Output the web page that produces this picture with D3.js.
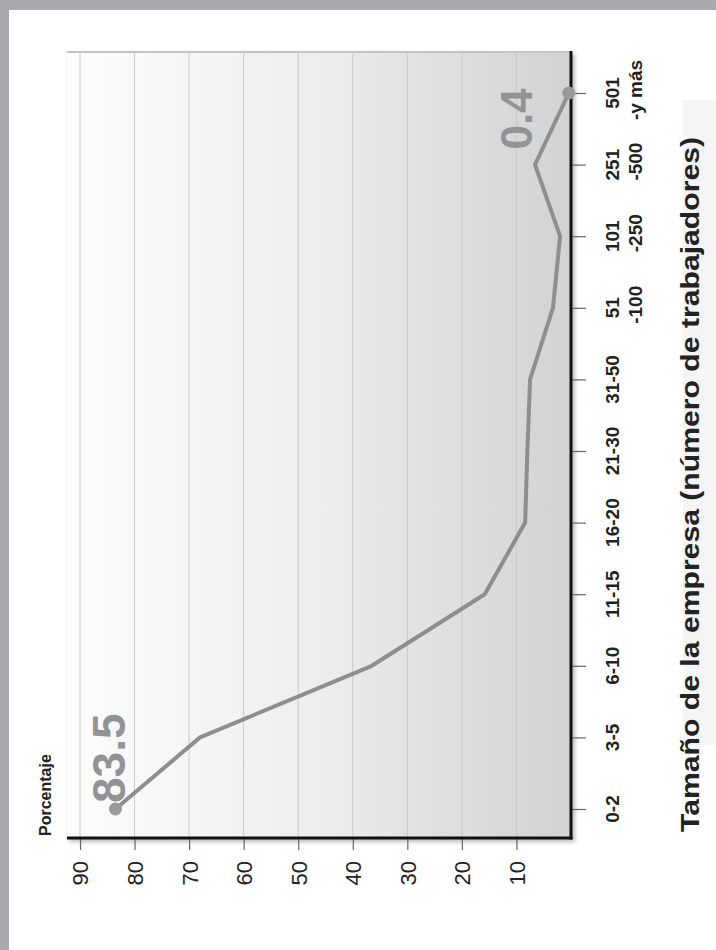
<!DOCTYPE html>
<html><head><meta charset="utf-8">
<script src="https://cdn.jsdelivr.net/npm/d3@7"></script>
<style>html,body{margin:0;padding:0;background:#fff;}svg{display:block;}</style>
</head><body>
<svg id="c" width="716" height="950"></svg>
<script>
const categories = ["0-2","3-5","6-10","11-15","16-20","21-30","31-50","51","101","251","501"];
const categorySub = ["","","","","","","","-100","-250","-500","-y más"];
const values = [83.5, 68.0, 36.5, 15.8, 8.4, 8.0, 7.5, 3.3, 2.0, 6.6, 0.4];
const valueTicks = [10,20,30,40,50,60,70,80,90];
const pointLabels = ["83.5","","","","","","","","","","0.4"];
const valueTitle = "Porcentaje";
const categoryTitle = "Tamaño de la empresa (número de trabajadores)";

const svg = d3.select("#c");
const W=716,H=950;
const plot = {left:67, right:571, top:52, bottom:838};

// frame
svg.append("rect").attr("width",W).attr("height",H).attr("fill","#fff");
svg.append("rect").attr("x",683).attr("y",100).attr("width",33).attr("height",645).attr("fill","#f5f5f5");
svg.append("rect").attr("x",0).attr("y",0).attr("width",W).attr("height",10).attr("fill","#a9aaae");
svg.append("rect").attr("x",0).attr("y",0).attr("width",9).attr("height",H).attr("fill","#a9aaae");

const x = d3.scaleLinear().domain([0,90]).range([plot.right, 80]);
const y = d3.scalePoint().domain(categories).range([809, 93]);

const defs = svg.append("defs");
const g1 = defs.append("linearGradient").attr("id","bg").attr("x1","0").attr("x2","1").attr("y1","0").attr("y2","0");
g1.append("stop").attr("offset","0").attr("stop-color","#fdfdfd");
g1.append("stop").attr("offset","0.5").attr("stop-color","#ededee");
g1.append("stop").attr("offset","1").attr("stop-color","#d2d2d4");
const sh = defs.append("filter").attr("id","sh").attr("x","-5%").attr("y","-5%").attr("width","110%").attr("height","110%");
sh.append("feGaussianBlur").attr("stdDeviation",2);

// shadow + plot background
svg.append("rect").attr("x",plot.left+2).attr("y",plot.top+2).attr("width",plot.right-plot.left+2).attr("height",plot.bottom-plot.top+2)
  .attr("fill","#bbb").attr("filter","url(#sh)");
svg.append("rect").attr("x",plot.left).attr("y",plot.top).attr("width",plot.right-plot.left).attr("height",plot.bottom-plot.top)
  .attr("fill","url(#bg)");
// top border
svg.append("line").attr("x1",plot.left).attr("x2",plot.right).attr("y1",plot.top).attr("y2",plot.top)
  .attr("stroke","#c4c4c4").attr("stroke-width",2);

// gridlines
svg.append("g").selectAll("line").data(valueTicks).join("line")
  .attr("x1",d=>x(d)).attr("x2",d=>x(d)).attr("y1",plot.top).attr("y2",plot.bottom)
  .attr("stroke","#c9c9cb").attr("stroke-width",1);

// value axis (bottom)
const xAxis = d3.axisBottom(x).tickValues(valueTicks).tickSize(12).tickFormat(d3.format("d"));
const gx = svg.append("g").attr("transform",`translate(0,${plot.bottom})`).call(xAxis);
gx.select(".domain").remove();
gx.selectAll(".tick line").attr("stroke","#666").attr("stroke-width",1.2);
gx.selectAll(".tick text")
  .attr("font-family","'Liberation Sans', Arial, sans-serif").attr("font-size",22).attr("fill","#222")
  .attr("transform","rotate(-90)").attr("text-anchor","end").attr("x",-23).attr("y",0).attr("dy","0.36em");

// category axis (right)
const yAxis = d3.axisRight(y).tickSize(15).tickFormat("");
const gy = svg.append("g").attr("transform",`translate(${plot.right},0)`).call(yAxis);
gy.select(".domain").remove();
gy.selectAll(".tick line").attr("stroke","#666").attr("stroke-width",1.2);

const catFont = "'Liberation Sans Narrow','Liberation Sans', Arial, sans-serif";
const cl = svg.append("g");
cl.selectAll("text.c1").data(categories).join("text").attr("class","c1")
  .attr("transform",d=>`translate(612,${y(d)}) rotate(-90)`)
  .attr("text-anchor","middle").attr("dy","0.36em")
  .attr("font-family",catFont).attr("font-weight","bold").attr("font-size",19).attr("fill","#222")
  .text(d=>d);
cl.selectAll("text.c2").data(categories.map((c,i)=>({c,s:categorySub[i]})).filter(d=>d.s)).join("text").attr("class","c2")
  .attr("transform",d=>`translate(635,${y(d.c)-3}) rotate(-90)`)
  .attr("text-anchor","middle").attr("dy","0.36em")
  .attr("font-family",catFont).attr("font-weight","bold").attr("font-size",19).attr("fill","#222")
  .text(d=>d.s);

// axis lines
svg.append("line").attr("x1",plot.left).attr("x2",plot.right+1.5).attr("y1",plot.bottom).attr("y2",plot.bottom)
  .attr("stroke","#111").attr("stroke-width",3);
svg.append("line").attr("x1",plot.right).attr("x2",plot.right).attr("y1",plot.top-1).attr("y2",plot.bottom+1.5)
  .attr("stroke","#111").attr("stroke-width",3);

// line
const pts = categories.map((c,i)=>({c,v:values[i],lab:pointLabels[i]}));
svg.append("path").datum(pts)
  .attr("d",d3.line().x(d=>x(d.v)).y(d=>y(d.c)))
  .attr("fill","none").attr("stroke","#8e8e90").attr("stroke-width",4).attr("stroke-linejoin","round");
svg.append("g").selectAll("circle").data(pts.filter(d=>d.lab)).join("circle")
  .attr("cx",d=>x(d.v)).attr("cy",d=>y(d.c)).attr("r",6.5).attr("fill","#9a9a9c");

// point labels
svg.append("g").selectAll("text").data(pts.filter(d=>d.lab)).join("text")
  .attr("transform",(d,i)=> i===0
     ? `translate(${x(d.v)+10},${y(d.c)-6}) rotate(-90)`
     : `translate(${x(d.v)-37},${y(d.c)+26}) rotate(-90)`)
  .attr("text-anchor",(d,i)=> i===0 ? "start" : "middle")
  .attr("font-family","'Liberation Sans', Arial, sans-serif").attr("font-weight","bold")
  .attr("font-size",(d,i)=> i===0 ? 46 : 44)
  .attr("fill","#939395").text(d=>d.lab);

// titles
svg.append("text").attr("transform",`translate(51,836) rotate(-90)`)
  .attr("text-anchor","start")
  .attr("font-family",catFont).attr("font-weight","bold").attr("font-size",16).attr("fill","#222").text(valueTitle);
svg.append("text").attr("transform",`translate(699,832) rotate(-90)`)
  .attr("text-anchor","start").attr("textLength",695).attr("lengthAdjust","spacingAndGlyphs")
  .attr("font-family","'Liberation Sans', Arial, sans-serif").attr("font-weight","bold").attr("font-size",26).attr("fill","#222").text(categoryTitle);
</script>
</body></html>
